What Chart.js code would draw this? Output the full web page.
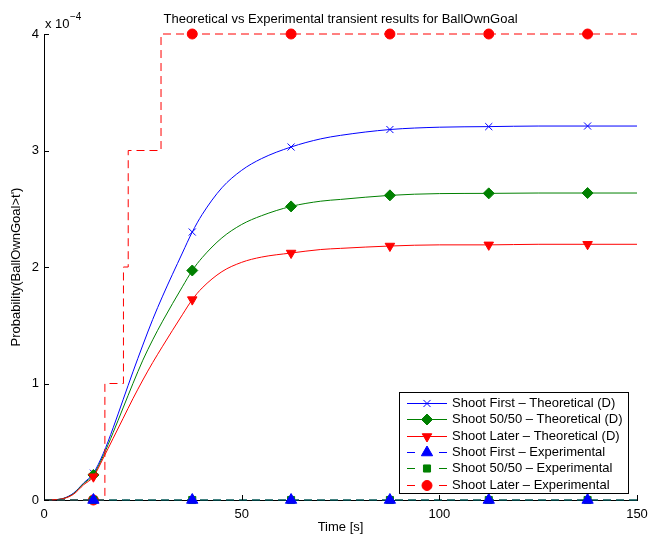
<!DOCTYPE html>
<html>
<head>
<meta charset="utf-8">
<script src="https://cdn.jsdelivr.net/npm/chart.js@4.4.1/dist/chart.umd.min.js"></script>
<style>
  body { margin: 0; background: #fff; }
  canvas { display: block; }
</style>
</head>
<body>
<canvas id="Chart_BallOwnGoal" width="657" height="535"></canvas>
<script>
// theoretical curves, time grid [s]
var tTheo = [0, 2.5, 5, 7.5, 10, 12.5, 15, 17.5, 20, 22.5, 25, 27.5, 30, 35, 37.5, 40, 45, 50, 55, 62.5, 70, 75, 87.5, 100, 112.5, 125, 137.5, 150];
// probabilities in units of 1e-4
var firstTheo = [0, 0.002, 0.015, 0.06, 0.145, 0.23, 0.40, 0.62, 0.86, 1.10, 1.33, 1.55, 1.75, 2.12, 2.30, 2.45, 2.68, 2.83, 2.93, 3.03, 3.10, 3.13, 3.18, 3.20, 3.205, 3.21, 3.21, 3.21];
var fiftyTheo = [0, 0.002, 0.014, 0.055, 0.14, 0.215, 0.38, 0.58, 0.79, 1.00, 1.20, 1.375, 1.535, 1.83, 1.97, 2.08, 2.25, 2.365, 2.44, 2.52, 2.565, 2.58, 2.615, 2.63, 2.632, 2.635, 2.635, 2.635];
var laterTheo = [0, 0.002, 0.013, 0.05, 0.13, 0.20, 0.36, 0.53, 0.70, 0.87, 1.03, 1.18, 1.32, 1.59, 1.72, 1.82, 1.96, 2.04, 2.085, 2.12, 2.15, 2.16, 2.18, 2.19, 2.19, 2.195, 2.195, 2.195];

// marker positions on every series
var tMarks = [12.5, 37.5, 62.5, 87.5, 112.5, 137.5];

// experimental results (stairs), same units
var tExp = [0, 12.5, 15.4, 20.1, 21.3, 29.6, 37.5, 62.5, 87.5, 112.5, 137.5, 150];
var firstExp = [0, 0, 0, 0, 0, 0, 0, 0, 0, 0, 0, 0];
var fiftyExp = [0, 0, 0, 0, 0, 0, 0, 0, 0, 0, 0, 0];
var laterExp = [0, 0, 1, 2, 3, 4, 4, 4, 4, 4, 4, 4];

var xTicks = [0, 50, 100, 150];
var yTicks = [0, 1, 2, 3, 4];

var chartTitle = "Theoretical vs Experimental transient results for BallOwnGoal";
var xTitle = "Time [s]";
var yTitle = "Probability(BallOwnGoal>t')";

var FONT = "'Liberation Sans', Arial, Helvetica, sans-serif";
var BLUE = "#0000ff", GREEN = "#008000", RED = "#ff0000";
var DASH = [8, 5];

function fPts(xs, ys) {
    var out = [];
    for (var i = 0; i < xs.length; i++) out.push({ x: xs[i], y: ys[i] });
    return out;
}
function fMarkR(r) {
    return function (c) { return (c.raw && tMarks.indexOf(c.raw.x) >= 0) ? r : 0; };
}

// marker look per series, used by the datasets and the legend
var mFirstT = { pointStyle: 'crossRot', radius: 5, rotation: 0 };
var mFiftyT = { pointStyle: 'rectRot', radius: 5.5, rotation: 0 };
var mLaterT = { pointStyle: 'triangle', radius: 5.5, rotation: 180 };
var mFirstE = { pointStyle: 'triangle', radius: 6.5, rotation: 0 };
var mFiftyE = { pointStyle: 'rect', radius: 5, rotation: 0 };
var mLaterE = { pointStyle: 'circle', radius: 5, rotation: 0 };

function fSet(label, xs, ys, color, m, dashed, stepped, showLine) {
    return {
        label: label, data: fPts(xs, ys),
        borderColor: color, backgroundColor: color,
        borderWidth: 1, borderDash: dashed ? DASH : [],
        showLine: showLine !== false,
        // 'before' in Chart.js keeps the old value up to the next point, then steps
        stepped: stepped ? 'before' : false,
        cubicInterpolationMode: stepped ? 'default' : 'monotone',
        pointStyle: m.pointStyle, pointRotation: m.rotation,
        pointRadius: fMarkR(m.radius), pointBorderWidth: 1,
        pointBackgroundColor: color, pointBorderColor: color,
        fill: false, clip: false
    };
}

var legendRows = [
    { text: "Shoot First \u2013 Theoretical (D)", color: BLUE, m: mFirstT, dashed: false },
    { text: "Shoot 50/50 \u2013 Theoretical (D)", color: GREEN, m: mFiftyT, dashed: false },
    { text: "Shoot Later \u2013 Theoretical (D)", color: RED, m: mLaterT, dashed: false },
    { text: "Shoot First \u2013 Experimental", color: BLUE, m: mFirstE, dashed: true },
    { text: "Shoot 50/50 \u2013 Experimental", color: GREEN, m: mFiftyE, dashed: true },
    { text: "Shoot Later \u2013 Experimental", color: RED, m: mLaterE, dashed: true }
];

// first dataset ends up on top
var DSets = [
    fSet("Shoot First - Experimental (markers)", tExp, firstExp, BLUE, mFirstE, true, false, false),
    fSet("Shoot 50/50 - Experimental", tExp, fiftyExp, GREEN, mFiftyE, true, true),
    fSet("Shoot First - Experimental", tExp, firstExp, BLUE, { pointStyle: 'triangle', radius: 0, rotation: 0 }, true, true),
    fSet("Shoot Later - Experimental", tExp, laterExp, RED, mLaterE, true, true),
    fSet("Shoot Later - Theoretical (D)", tTheo, laterTheo, RED, mLaterT, false, false),
    fSet("Shoot 50/50 - Theoretical (D)", tTheo, fiftyTheo, GREEN, mFiftyT, false, false),
    fSet("Shoot First - Theoretical (D)", tTheo, firstTheo, BLUE, mFirstT, false, false)
];

function fMarker(ctx, m, color, x, y) {
    ctx.save();
    ctx.fillStyle = color; ctx.strokeStyle = color; ctx.lineWidth = 1; ctx.setLineDash([]);
    Chart.helpers.drawPoint(ctx, { pointStyle: m.pointStyle, rotation: m.rotation, radius: m.radius, borderWidth: 1 }, x, y);
    ctx.restore();
}

// axes decorations drawn MATLAB style: inward ticks, texts, boxed legend
var decor = {
    id: 'decor',
    afterDraw: function (chart) {
        var ctx = chart.ctx, a = chart.chartArea;
        var xs = chart.scales.x, ys = chart.scales.y;
        ctx.save();
        ctx.strokeStyle = '#000'; ctx.lineWidth = 1;
        ctx.beginPath();
        xTicks.forEach(function (v) {
            var px = Math.round(xs.getPixelForValue(v)) + 0.5;
            ctx.moveTo(px, a.bottom); ctx.lineTo(px, a.bottom - 5);
        });
        yTicks.forEach(function (v) {
            var py = Math.round(ys.getPixelForValue(v)) + 0.5;
            ctx.moveTo(a.left, py); ctx.lineTo(a.left + 5, py);
        });
        ctx.stroke();

        ctx.fillStyle = '#000';
        ctx.font = "13px " + FONT;
        ctx.textAlign = 'center'; ctx.textBaseline = 'alphabetic';
        ctx.fillText(chartTitle, (a.left + a.right) / 2, 23);
        ctx.fillText(xTitle, (a.left + a.right) / 2, 531);

        ctx.save();
        ctx.translate(20, (a.top + a.bottom) / 2);
        ctx.rotate(-Math.PI / 2);
        ctx.fillText(yTitle, 0, 0);
        ctx.restore();

        // exponent of the y axis
        ctx.textAlign = 'left';
        ctx.fillText("x 10", 45, 28);
        ctx.font = "10px " + FONT;
        ctx.fillText("\u22124", 70, 20);

        // legend
        var bx = 399.5, by = 392.5, bw = 229, bh = 101;
        ctx.fillStyle = '#fff';
        ctx.fillRect(bx, by, bw, bh);
        ctx.strokeStyle = '#000';
        ctx.strokeRect(bx, by, bw, bh);
        ctx.font = "13px " + FONT;
        ctx.textBaseline = 'middle';
        legendRows.forEach(function (r, i) {
            var ry = Math.round(by + 10.5 + i * 16.3) + 0.5;
            ctx.strokeStyle = r.color; ctx.lineWidth = 1;
            ctx.beginPath();
            if (r.dashed) {
                ctx.moveTo(407, ry); ctx.lineTo(415, ry);
                ctx.moveTo(439, ry); ctx.lineTo(447, ry);
            } else {
                ctx.moveTo(407, ry); ctx.lineTo(447, ry);
            }
            ctx.stroke();
            fMarker(ctx, r.m, r.color, 427, ry);
            ctx.fillStyle = '#000';
            ctx.fillText(r.text, 452, ry);
        });
        ctx.restore();
    }
};

var ctx = document.getElementById('Chart_BallOwnGoal');
Chart.defaults.font.family = FONT;
Chart.defaults.font.size = 13;
Chart.defaults.color = '#000';

var chart = new Chart(ctx, {
    type: 'line',
    data: { datasets: DSets },
    options: {
        responsive: false,
        animation: false,
        events: [],
        layout: { padding: { top: 34, right: 20, left: 0, bottom: 0 } },
        plugins: { legend: { display: false }, tooltip: { enabled: false }, title: { display: false } },
        scales: {
            x: {
                type: 'linear', min: 0, max: 150,
                afterFit: function (s) { s.height = 35; },
                afterBuildTicks: function (s) { s.ticks = xTicks.map(function (v) { return { value: v }; }); },
                ticks: { padding: 7, maxRotation: 0, color: '#000', font: { size: 13 } },
                grid: { display: false, drawTicks: false },
                border: { display: true, color: '#000', width: 1 }
            },
            y: {
                type: 'linear', min: 0, max: 4,
                afterFit: function (s) { s.width = 44; },
                afterBuildTicks: function (s) { s.ticks = yTicks.map(function (v) { return { value: v }; }); },
                ticks: { padding: 5, color: '#000', font: { size: 13 } },
                grid: { display: false, drawTicks: false },
                border: { display: true, color: '#000', width: 1 }
            }
        }
    },
    plugins: [decor]
});
</script>
</body>
</html>
